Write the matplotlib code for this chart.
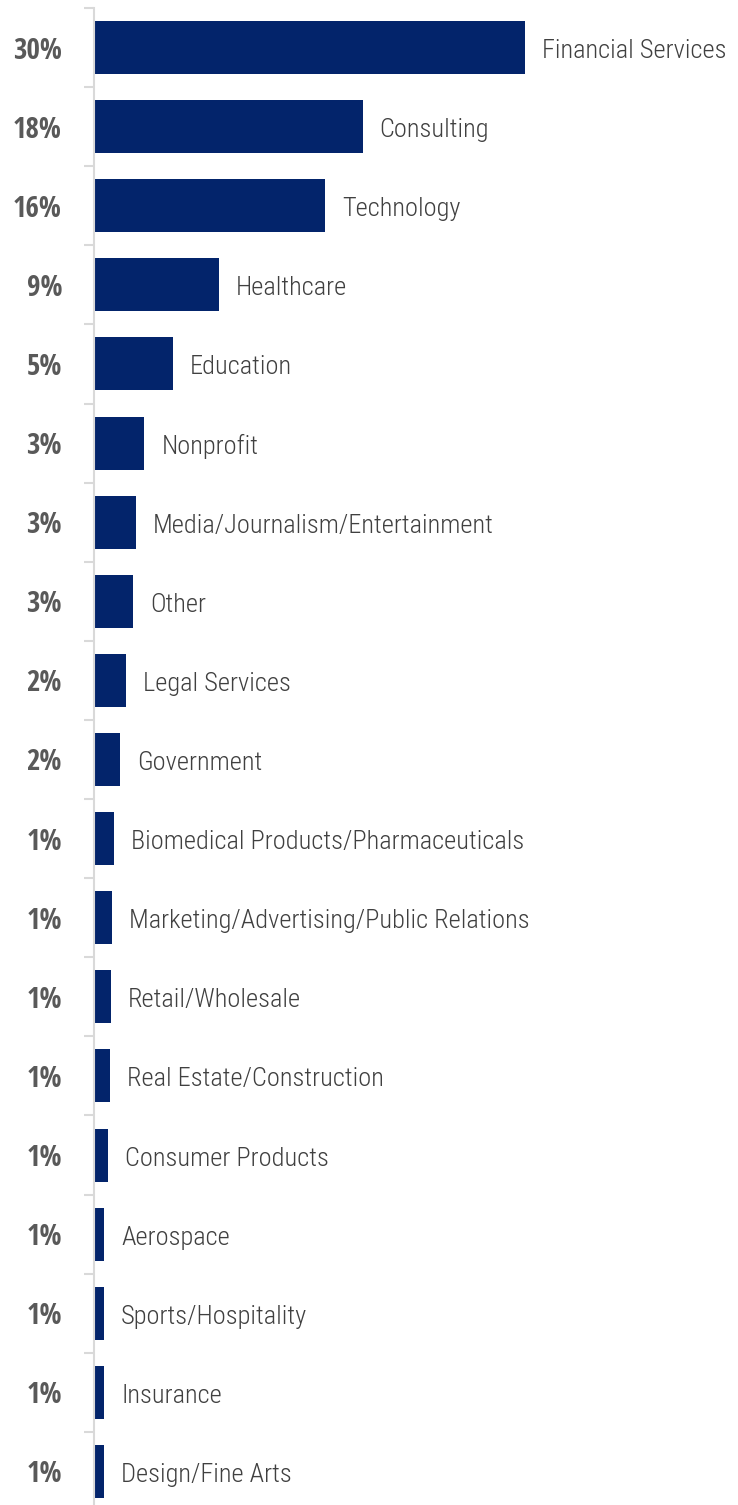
import numpy as np
import matplotlib
matplotlib.use("Agg")
import matplotlib.pyplot as plt

# industries, top to bottom
categories = [
    "Financial Services", "Consulting", "Technology", "Healthcare", "Education",
    "Nonprofit", "Media/Journalism/Entertainment", "Other", "Legal Services",
    "Government", "Biomedical Products/Pharmaceuticals",
    "Marketing/Advertising/Public Relations", "Retail/Wholesale",
    "Real Estate/Construction", "Consumer Products", "Aerospace",
    "Sports/Hospitality", "Insurance", "Design/Fine Arts",
]
values = [30.0, 18.7, 16.1, 8.7, 5.5, 3.5, 2.9, 2.7, 2.2, 1.8, 1.4, 1.25,
          1.2, 1.1, 1.0, 0.7, 0.7, 0.7, 0.7]
pct_labels = ["30%", "18%", "16%", "9%", "5%", "3%", "3%", "3%", "2%", "2%",
              "1%", "1%", "1%", "1%", "1%", "1%", "1%", "1%", "1%"]

cat_font = ["Liberation Sans Narrow", "Roboto Condensed", "Open Sans"]
pct_font = ["Open Sans Condensed", "Liberation Sans Narrow", "Open Sans"]
bar_color = "#03246b"

W, H = 738, 1505
fig = plt.figure(figsize=(W / 100, H / 100), dpi=100)
# axes: spine at x=94, category boundaries from y=8 down to y=1511
left, top, bottom = 94, 8, 1511
x_max = 30.0 * (W - left) / 431.0
ax = fig.add_axes([left / W, 1 - bottom / H, 1 - left / W, (bottom - top) / H])

n = len(categories)
y = np.arange(n)
ax.barh(y, values, height=0.67, color=bar_color)
ax.set_ylim(n - 0.5, -0.5)
ax.set_xlim(0, x_max)

for yi, v, cat, pl in zip(y, values, categories, pct_labels):
    ax.annotate(cat, (v, yi), xytext=(17, -1), textcoords="offset pixels",
                ha="left", va="center_baseline", fontsize=19, color="#404040",
                family=cat_font, fontweight="light")
    ax.annotate(pl, (0, yi), xycoords=("axes fraction", "data"),
                xytext=(-32, 0), textcoords="offset pixels",
                ha="right", va="center_baseline", fontsize=21, color="#595959",
                family=pct_font, fontweight="bold")

for s in ["top", "right", "bottom"]:
    ax.spines[s].set_visible(False)
ax.spines["left"].set_color("#d9d9d9")
ax.spines["left"].set_linewidth(1.5)
ax.set_yticks(np.arange(n + 1) - 0.5)
ax.set_yticklabels([])
ax.tick_params(axis="y", length=7, width=1.5, color="#d9d9d9")
ax.set_xticks([])

fig.savefig("out.png", dpi=100)
